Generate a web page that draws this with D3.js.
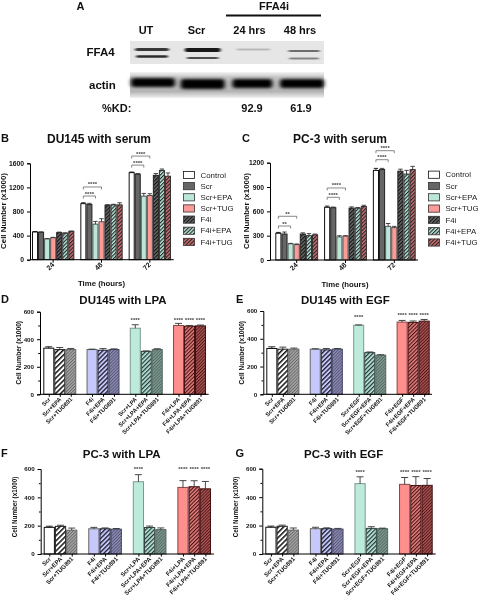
<!DOCTYPE html>
<html><head><meta charset="utf-8">
<script src="https://cdn.jsdelivr.net/npm/d3@7/dist/d3.min.js"></script>
<style>
html,body{margin:0;padding:0;background:#fff}
svg{display:block;filter:blur(0.4px)}
text{font-family:"Liberation Sans",Arial,sans-serif;fill:#111}
</style></head><body>
<svg id="c" width="479" height="600"></svg>
<script>
// ---------- data ----------
const timeGroups = ["24","48","72"];
const serumSeries = ["Control","Scr","Scr+EPA","Scr+TUG","F4i","F4i+EPA","F4i+TUG"];
const bValues = [[460,455,345,365,450,440,470],[930,915,590,630,905,910,910],[1445,1420,1055,1065,1400,1480,1385]];
const bErrors = [[8,8,6,6,8,6,6],[15,20,45,50,8,10,35],[10,10,45,30,30,25,55]];
const cValues = [[330,320,200,190,320,300,310],[650,645,285,295,640,640,660],[1105,1115,415,400,1095,1060,1115]];
const cErrors = [[10,25,5,8,15,25,10],[15,8,15,5,15,8,15],[25,15,35,15,25,45,40]];
const bBrackets = [[1,2,1057,"****"],[1,3,1207,"****"],[2,2,1570,"****"],[2,3,1720,"****"]];
const cBrackets = [[0,2,419,"**"],[0,3,539,"**"],[1,2,773,"****"],[1,3,888,"****"],[2,2,1237,"****"],[2,3,1348,"****"]];

const lpaLabels = [["Scr","Scr+EPA","Scr+TUG891"],["F4i","F4i+EPA","F4i+TUG891"],["Scr+LPA","Scr+LPA+EPA","Scr+LPA+TUG891"],["F4i+LPA","F4i+LPA+EPA","F4i+LPA+TUG891"]];
const egfLabels = [["Scr","Scr+EPA","Scr+TUG891"],["F4i","F4i+EPA","F4i+TUG891"],["Scr+EGF","Scr+EGF+EPA","Scr+EGF+TUG891"],["F4i+EGF","F4i+EGF+EPA","F4i+EGF+TUG891"]];
const dValues = [[335,325,325],[325,320,325],[480,312,325],[500,495,497]];
const dErrors = [[10,15,8],[3,12,5],[25,3,6],[15,5,6]];
const eValues = [[330,325,325],[325,320,325],[497,300,282],[520,518,527]];
const eErrors = [[12,15,8],[3,10,5],[3,5,3],[12,10,12]];
const fValues = [[188,195,168],[178,178,175],[510,187,172],[470,475,460]];
const fErrors = [[8,8,15],[10,6,5],[50,10,12],[48,42,52]];
const gValues = [[188,195,168],[178,178,175],[495,180,178],[490,482,483]];
const gErrors = [[8,8,15],[10,6,5],[48,12,4],[48,62,48]];
const dStars = [[2,0,547],[3,0,547],[3,1,547],[3,2,547]];
const eStars = [[2,0,563],[3,0,575],[3,1,575],[3,2,575]];
const fStars = [[2,0,606],[3,0,606],[3,1,606],[3,2,606]];
const gStars = [[2,0,586],[3,0,586],[3,1,586],[3,2,586]];

// blot: [lane, y, half-width, half-height, opacity]
const blotLanes = ["UT","Scr","24 hrs","48 hrs"];
const blotKD = ["","","92.9","61.9"];
const ffa4Bands = [[0,49.5,17,1.5,.8],[0,56.5,16,1.3,.85],[1,50,18,1.9,.95],[1,58,16,1.1,.7],[2,49.5,17,.9,.2],[3,51,16,1.1,.55],[3,58.5,15,.9,.45]];
const actinBands = [[0,82.5,22,4.4,1],[1,84,22,5,1],[2,83.5,20,4.4,1],[3,83.5,22,4.6,1]];

// ---------- styles ----------
const serumStyle = [
 {fill:"#fff",stroke:"#111"},{fill:"#666",stroke:"#222"},{fill:"#b9e8d8",stroke:"#555"},{fill:"#fb9a96",stroke:"#555"},
 {fill:"#6a6a6a",stroke:"#222",hatch:"#111"},{fill:"#b9e8d8",stroke:"#333",hatch:"#222"},{fill:"#d07070",stroke:"#333",hatch:"#222"}];
const treatStyle = [
 {fill:"#fff",stroke:"#111"},{fill:"#fff",stroke:"#222",hatch:"#111",w:3.6},{fill:"#aaa",stroke:"#666",hatch:"#666",w:2.2},
 {fill:"#c6c8fb",stroke:"#666"},{fill:"#c6c8fb",stroke:"#223",hatch:"#223",w:3.2},{fill:"#8c8cc0",stroke:"#446",hatch:"#556",w:2.2},
 {fill:"#bcebdb",stroke:"#7d9a8e"},{fill:"#bcebdb",stroke:"#344",hatch:"#233",w:3},{fill:"#7d9c8c",stroke:"#566",hatch:"#566",w:2.2},
 {fill:"#ff8f8c",stroke:"#844"},{fill:"#e88080",stroke:"#411",hatch:"#411",w:2.6},{fill:"#a85a5a",stroke:"#411",hatch:"#511",w:2.2}];

const svg = d3.select("#c");
const defs = svg.append("defs");
defs.append("filter").attr("id","b1").attr("x","-20%").attr("y","-100%").attr("width","140%").attr("height","300%")
  .append("feGaussianBlur").attr("stdDeviation","1.5 0.6");
defs.append("filter").attr("id","b2").attr("x","-20%").attr("y","-100%").attr("width","140%").attr("height","300%")
  .append("feGaussianBlur").attr("stdDeviation","2 1.7");
let pid=0;
function paint(st){
  if(!st.hatch) return st.fill;
  const id="h"+(pid++), w=st.w||2.6;
  const p=defs.append("pattern").attr("id",id).attr("patternUnits","userSpaceOnUse")
    .attr("width",w).attr("height",w).attr("patternTransform","rotate(45)");
  p.append("rect").attr("width",w).attr("height",w).attr("fill",st.fill);
  p.append("rect").attr("width",w*0.42).attr("height",w).attr("fill",st.hatch);
  return `url(#${id})`;
}

function txt(s,x,y,size,o={}){
  return svg.append("text").attr("x",x).attr("y",y).attr("font-size",size)
    .attr("font-weight",o.w||"bold").attr("text-anchor",o.a||"start").text(s);
}

// ---------- blot (panel A) ----------
const lane = d3.scalePoint().domain(d3.range(4)).range([153,302]);
const ffa4Lane = d3.scalePoint().domain(d3.range(4)).range([152,304]);
svg.append("rect").attr("x",130).attr("y",41).attr("width",194).attr("height",23).attr("fill","#e6e6e6");
const actinGrad = defs.append("linearGradient").attr("id","ag").attr("x1",0).attr("x2",0).attr("y1",0).attr("y2",1);
[[0,"#f4f4f4"],[.2,"#c4c4c4"],[.75,"#b4b4b4"],[1,"#f0f0f0"]].forEach(d=>actinGrad.append("stop").attr("offset",d[0]).attr("stop-color",d[1]));
svg.append("rect").attr("x",130).attr("y",72).attr("width",194).attr("height",26).attr("fill","url(#ag)");
svg.append("g").selectAll("rect").data(ffa4Bands).join("rect")
  .attr("x",d=>ffa4Lane(d[0])-d[2]).attr("y",d=>d[1]-d[3]).attr("width",d=>d[2]*2).attr("height",d=>d[3]*2)
  .attr("rx",2).attr("fill","#111").attr("opacity",d=>d[4]).attr("filter","url(#b1)");
svg.append("g").selectAll("rect").data(actinBands).join("rect")
  .attr("x",d=>lane(d[0])-d[2]).attr("y",d=>d[1]-d[3]).attr("width",d=>d[2]*2).attr("height",d=>d[3]*2)
  .attr("rx",3).attr("fill","#000").attr("opacity",d=>d[4]).attr("filter","url(#b2)");
const laneX = {"UT":146,"Scr":196.5,"24 hrs":249.5,"48 hrs":300};
blotLanes.forEach(l=>txt(l,laneX[l],34,11,{a:"middle"}));
txt("A",76.5,9.5,11);
txt("FFA4i",274,9.5,11,{a:"middle"});
svg.append("line").attr("x1",226).attr("x2",321).attr("y1",15.5).attr("y2",15.5).attr("stroke","#111").attr("stroke-width",2);
txt("FFA4",86.5,56,11.5);
txt("actin",89,89,11.5);
txt("%KD:",102,111.5,11);
txt(blotKD[2],252,111.5,11,{a:"middle"});
txt(blotKD[3],301,111.5,11,{a:"middle"});

// ---------- bar panels ----------
function panel(o){
  const y=d3.scaleLinear().domain([0,o.max]).range([o.y0,o.yTop]);
  const groups=d3.range(o.values.length);
  const x=d3.scaleBand().domain(groups).range(o.barRange).paddingInner(o.gap).paddingOuter(0);
  const n=o.values[0].length;
  const inner=d3.scaleBand().domain(d3.range(n)).range([0,x.bandwidth()]);
  const g=svg.append("g");
  const flat=[];
  o.values.forEach((row,gi)=>row.forEach((v,si)=>flat.push({gi,si,v,err:o.errors[gi][si],
     st:o.styles[o.styles.length===n?si:gi*n+si]})));
  const cx=d=>x(d.gi)+inner(d.si);
  const pad=.5;
  g.selectAll("rect").data(flat).join("rect")
    .attr("x",d=>cx(d)+pad).attr("width",inner.bandwidth()-pad*2)
    .attr("y",d=>y(d.v)).attr("height",d=>y(0)-y(d.v))
    .attr("fill",d=>paint(d.st)).attr("stroke",d=>d.st.stroke).attr("stroke-width",o.bw||1);
  g.selectAll("path.e").data(flat).join("path").attr("class","e")
    .attr("d",d=>{const m=cx(d)+inner.bandwidth()/2,c=o.cap;return `M${m},${y(d.v)}V${y(d.v+d.err)}M${m-c},${y(d.v+d.err)}H${m+c}`})
    .attr("fill","none").attr("stroke",d=>d.st.stroke==="#111"?"#111":"#333").attr("stroke-width",.9);

  const yAxis=d3.axisLeft(y).tickValues(o.ticks).tickSize(3).tickFormat(d3.format("d"));
  const ya=svg.append("g").attr("transform",`translate(${o.axisX},0)`).call(yAxis);
  if(o.minor){
    svg.append("g").attr("transform",`translate(${o.axisX},0)`)
      .call(d3.axisLeft(y).tickValues(o.minor).tickSize(1.8).tickFormat("")).select(".domain").remove();
  }
  ya.selectAll("text").attr("font-size",o.tickFont).attr("font-weight","bold").attr("dx",0);

  let labelsX;
  if(o.labels){
    const lab=o.labels.flat();
    const pos=[];
    o.labels.forEach((r,gi)=>r.forEach((l,si)=>pos.push(x(gi)+inner(si)+inner.bandwidth()/2)));
    labelsX=d3.axisBottom(d3.scaleOrdinal().domain(lab).range(pos)).tickSize(2.5);
  } else {
    labelsX=d3.axisBottom(d3.scaleBand().domain(o.groupNames).range(o.barRange).paddingInner(o.gap).paddingOuter(0)).tickSize(3);
  }
  const xa=svg.append("g").attr("transform",`translate(0,${o.y0})`).call(labelsX);
  xa.select(".domain").remove();
  svg.append("line").attr("x1",o.axisX).attr("x2",o.axisEnd).attr("y1",o.y0).attr("y2",o.y0).attr("stroke","#000").attr("stroke-width",1);
  xa.selectAll("text").attr("font-size",o.xFont).attr("font-weight","bold")
    .attr("text-anchor","end").attr("dy",0).attr("y",0)
    .attr("transform","translate(1.5,5.5) rotate(-45)");

  (o.brackets||[]).forEach(b=>{
    const a=x(b[0])+inner(0)+inner.bandwidth()/2, e=x(b[0])+inner(b[1])+inner.bandwidth()/2, yy=y(b[2]);
    svg.append("path").attr("d",`M${a},${yy+2.5}V${yy}H${e}V${yy+2.5}`).attr("fill","none").attr("stroke","#555").attr("stroke-width",.7);
    txt(b[3],(a+e)/2,yy-.5,6,{a:"middle"}).style("fill","#444");
  });
  (o.stars||[]).forEach(s=>{
    txt("****",x(s[0])+inner(s[1])+inner.bandwidth()/2,y(s[2])+3,6,{a:"middle"}).style("fill","#444");
  });

  txt(o.title,o.titleX,o.titleY,o.titleSize||11.5,{a:"middle"});
  txt(o.letter,o.letterX,o.titleY-.5,11);
  if(o.xTitle) txt(o.xTitle,o.xTitleX,o.xTitleY,7.8,{a:"middle"});
  svg.append("text").attr("transform",`translate(${o.yTitleX},${o.yTitleY}) rotate(-90)`)
    .attr("font-size",o.yTitleFont).attr("font-weight","bold").attr("text-anchor","middle").text("Cell Number (x1000)");

  if(o.legend){
    o.legend.names.forEach((nm,i)=>{
      const yy=o.legend.y+i*o.legend.step;
      svg.append("rect").attr("x",o.legend.x).attr("y",yy-3.6).attr("width",11).attr("height",7.2)
        .attr("fill",paint(o.styles[i])).attr("stroke",o.styles[i].stroke==="#111"?"#111":"#333").attr("stroke-width",.8);
      txt(nm,o.legend.x+17,yy+2.7,7.9,{w:"normal"}).style("fill","#222");
    });
  }
}

panel({values:bValues,errors:bErrors,styles:serumStyle,max:1600,y0:259.7,yTop:163.3,axisX:30,axisEnd:173.7,
  barRange:[32,171],gap:.124,cap:2.2,ticks:[0,400,800,1200,1600],tickFont:6.8,xFont:7,groupNames:timeGroups,
  brackets:bBrackets,title:"DU145 with serum",titleX:99,titleY:142.5,titleSize:12,letter:"B",letterX:1,
  xTitle:"Time (hours)",xTitleX:101.5,xTitleY:285.5,yTitleX:6,yTitleY:211,yTitleFont:7.9,
  legend:{names:serumSeries,x:183.5,y:175,step:11.15}});
panel({values:cValues,errors:cErrors,styles:serumStyle,max:1200,y0:260,yTop:162.7,axisX:270,axisEnd:418,
  barRange:[275.3,415.7],gap:.122,cap:2.2,ticks:[0,300,600,900,1200],tickFont:6.8,xFont:7,groupNames:timeGroups,
  brackets:cBrackets,title:"PC-3 with serum",titleX:340,titleY:142.5,titleSize:12,letter:"C",letterX:242,
  xTitle:"Time (hours)",xTitleX:345,xTitleY:287,yTitleX:248.5,yTitleY:211,yTitleFont:7.9,
  legend:{names:serumSeries,x:428.5,y:174.7,step:11.3}});

const minor=[100,300,500];
const t6=[0,200,400,600];
panel({values:dValues,errors:dErrors,styles:treatStyle,labels:lpaLabels,max:600,y0:394.3,yTop:311.7,axisX:40,axisEnd:208.7,
  barRange:[43.3,206],gap:.238,cap:3.5,ticks:t6,minor,tickFont:6.2,xFont:5.8,stars:dStars,
  title:"DU145 with LPA",titleX:123,titleY:303.5,letter:"D",letterX:1,yTitleX:21,yTitleY:352.7,yTitleFont:6.6});
panel({values:eValues,errors:eErrors,styles:treatStyle,labels:egfLabels,max:600,y0:394.3,yTop:311,axisX:263.3,axisEnd:432,
  barRange:[266.3,429.7],gap:.238,cap:3.5,ticks:t6,minor,tickFont:6.2,xFont:5.8,stars:eStars,
  title:"DU145 with EGF",titleX:345.3,titleY:303.5,letter:"E",letterX:236,yTitleX:244,yTitleY:352.7,yTitleFont:6.6});
panel({values:fValues,errors:fErrors,styles:treatStyle,labels:lpaLabels,max:600,y0:554,yTop:469,axisX:40.7,axisEnd:214,
  barRange:[43.7,211],gap:.245,cap:3.5,ticks:t6,minor,tickFont:6.2,xFont:6,stars:fStars,
  title:"PC-3 with LPA",titleX:121.7,titleY:457.5,letter:"F",letterX:1,yTitleX:17,yTitleY:507,yTitleFont:6.3});
panel({values:gValues,errors:gErrors,styles:treatStyle,labels:egfLabels,max:600,y0:554,yTop:468.7,axisX:262.3,axisEnd:435.7,
  barRange:[265.3,432.7],gap:.245,cap:3.5,ticks:t6,minor,tickFont:6.2,xFont:6,stars:gStars,
  title:"PC-3 with EGF",titleX:343.7,titleY:457.5,letter:"G",letterX:235.5,yTitleX:238,yTitleY:507,yTitleFont:6.3});
</script>
</body></html>
